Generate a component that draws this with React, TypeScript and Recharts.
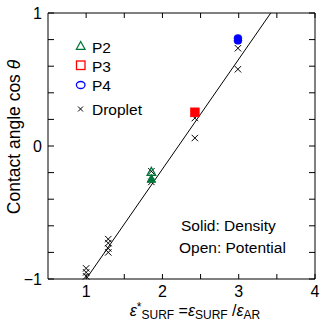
import React from 'react';
import { ScatterChart, Scatter, XAxis, YAxis, Customized } from 'recharts';

const FONT = '"Liberation Sans", Arial, Helvetica, sans-serif';

// Axis ticks
const xTicks = [1, 1.5, 2, 2.5, 3, 3.5, 4];
const yTicks = [-1, -0.8, -0.6, -0.4, -0.2, 0, 0.2, 0.4, 0.6, 0.8, 1];

// Series values
const p2PotentialX = [1.855];
const p2PotentialY = [-0.195];
const p2DensityX = [1.855];
const p2DensityY = [-0.248];
const p3DensityX = [2.425];
const p3DensityY = [0.253];
const p4DensityX = [2.99, 2.99];
const p4DensityY = [0.792, 0.812];
const dropletX = [1.0, 1.0, 1.0, 1.29, 1.29, 1.29, 1.29, 1.855, 1.855, 2.425, 2.425, 2.99, 2.99];
const dropletY = [-0.92, -0.95, -0.98, -0.7, -0.73, -0.77, -0.8, -0.19, -0.27, 0.21, 0.06, 0.735, 0.577];
const fitX = [1.0, 3.42];
const fitY = [-1, 1];

const zip = (xs: number[], ys: number[]) => xs.map((x, i) => ({ x, y: ys[i] }));

const p2Potential = zip(p2PotentialX, p2PotentialY);
const p2Density = zip(p2DensityX, p2DensityY);
const p3Density = zip(p3DensityX, p3DensityY);
const p4Density = zip(p4DensityX, p4DensityY);
const droplets = zip(dropletX, dropletY);
const fitLine = zip(fitX, fitY);

const GREEN = '#00773a';
const RED = '#ff0000';
const BLUE = '#0000ff';

const isInt = (v: number) => Math.abs(v - Math.round(v)) < 1e-9;
const fmtY = (v: number) => (Math.round(v) < 0 ? '\u2212' + Math.abs(Math.round(v)) : String(Math.round(v)));

const BottomTick = (p: any) => {
  const { x, y, payload } = p;
  const v = payload.value;
  return (
    <g>
      <line x1={x} y1={y} x2={x} y2={y - 5} stroke="#000" strokeWidth={1} />
      {isInt(v) && (
        <text x={x} y={y + 18} textAnchor="middle" fontSize={16} fontFamily={FONT} fill="#000">
          {Math.round(v)}
        </text>
      )}
    </g>
  );
};

const TopTick = (p: any) => {
  const { x, y } = p;
  return <line x1={x} y1={y} x2={x} y2={y + 5} stroke="#000" strokeWidth={1} />;
};

const LeftTick = (p: any) => {
  const { x, y, payload } = p;
  const v = payload.value;
  return (
    <g>
      <line x1={x} y1={y} x2={x + 6} y2={y} stroke="#000" strokeWidth={1} />
      {isInt(v) && (
        <text x={x - 6} y={y + 5.5} textAnchor="end" fontSize={16} fontFamily={FONT} fill="#000">
          {fmtY(v)}
        </text>
      )}
    </g>
  );
};

const RightTick = (p: any) => {
  const { x, y } = p;
  return <line x1={x} y1={y} x2={x - 6} y2={y} stroke="#000" strokeWidth={1} />;
};

const Cross = (p: any) => {
  const { cx, cy } = p;
  const s = 3.2;
  return (
    <path
      d={`M${cx - s},${cy - s}L${cx + s},${cy + s}M${cx - s},${cy + s}L${cx + s},${cy - s}`}
      stroke="#000"
      strokeWidth={1}
      fill="none"
    />
  );
};

const triPts = (cx: number, cy: number) =>
  `${cx},${cy - 4.5} ${cx - 4.3},${cy + 3.3} ${cx + 4.3},${cy + 3.3}`;

const OpenTri = (p: any) => <polygon points={triPts(p.cx, p.cy)} fill="none" stroke={GREEN} strokeWidth={1.3} />;
const SolidTri = (p: any) => <polygon points={triPts(p.cx, p.cy)} fill={GREEN} stroke={GREEN} strokeWidth={1} />;
const SolidSquare = (p: any) => (
  <rect x={p.cx - 4.5} y={p.cy - 4.5} width={9} height={9} fill={RED} stroke={RED} strokeWidth={0.5} />
);
const SolidCircle = (p: any) => <ellipse cx={p.cx} cy={p.cy} rx={4} ry={3.6} fill={BLUE} stroke={BLUE} strokeWidth={0.5} />;
const NoShape = () => <g />;

const Overlay = () => (
  <g fontFamily={FONT} fill="#000">
    {/* legend */}
    <polygon points={triPts(80.7, 46)} fill="none" stroke={GREEN} strokeWidth={1.3} />
    <text x={92} y={53} fontSize={15.5}>P2</text>
    <rect x={76.5} y={61} width={8.5} height={8.5} fill="none" stroke={RED} strokeWidth={1.3} />
    <text x={92} y={72} fontSize={15.5}>P3</text>
    <ellipse cx={80.7} cy={85} rx={4.3} ry={3.5} fill="none" stroke={BLUE} strokeWidth={1.3} />
    <text x={92} y={91} fontSize={15.5}>P4</text>
    <path d="M78,106.5L83,111.5M78,111.5L83,106.5" stroke="#000" strokeWidth={1} />
    <text x={92} y={115} fontSize={15.5}>Droplet</text>
    {/* annotations */}
    <text x={181} y={231} fontSize={15.5}>Solid: Density</text>
    <text x={179} y={253} fontSize={15.5}>Open: Potential</text>
    {/* y label */}
    <text transform="translate(20,137) rotate(-90)" x={0} y={0} textAnchor="middle" fontSize={17.5}>
      Contact angle cos <tspan fontStyle="italic">θ</tspan>
    </text>
    {/* x label */}
    <text x={195} y={316} textAnchor="middle" fontSize={16}>
      <tspan fontStyle="italic">ε</tspan>
      <tspan fontSize={12} dy={-5}>*</tspan>
      <tspan fontSize={12} dy={8}>SURF</tspan>
      <tspan dy={-3}> =</tspan>
      <tspan fontStyle="italic">ε</tspan>
      <tspan fontSize={12} dy={3}>SURF</tspan>
      <tspan dy={-3}> /</tspan>
      <tspan fontStyle="italic">ε</tspan>
      <tspan fontSize={12} dy={3}>AR</tspan>
    </text>
  </g>
);

export default function App() {
  return (
    <div style={{ position: 'absolute', left: 0, top: 0, background: '#fff' }}>
      <ScatterChart width={323} height={329} margin={{ top: 12, right: 7, bottom: 0, left: 0 }}>
        <XAxis
          xAxisId="bottom"
          dataKey="x"
          type="number"
          domain={[0.5, 4]}
          ticks={xTicks}
          interval={0}
          tickSize={0}
          tickMargin={0}
          height={50}
          axisLine={{ stroke: '#000' }}
          tick={(p: any) => <BottomTick {...p} />}
        />
        <XAxis
          xAxisId="top"
          orientation="top"
          dataKey="x"
          type="number"
          domain={[0.5, 4]}
          ticks={xTicks}
          interval={0}
          tickSize={0}
          tickMargin={0}
          height={1}
          axisLine={{ stroke: '#000' }}
          tick={(p: any) => <TopTick {...p} />}
        />
        <YAxis
          yAxisId="left"
          dataKey="y"
          type="number"
          domain={[-1, 1]}
          ticks={yTicks}
          interval={0}
          tickSize={0}
          tickMargin={0}
          width={48}
          axisLine={{ stroke: '#000' }}
          tick={(p: any) => <LeftTick {...p} />}
        />
        <YAxis
          yAxisId="right"
          orientation="right"
          dataKey="y"
          type="number"
          domain={[-1, 1]}
          ticks={yTicks}
          interval={0}
          tickSize={0}
          tickMargin={0}
          width={1}
          axisLine={{ stroke: '#000' }}
          tick={(p: any) => <RightTick {...p} />}
        />
        <Scatter
          xAxisId="top"
          yAxisId="right"
          data={fitLine}
          line={{ stroke: '#000', strokeWidth: 1 }}
          shape={NoShape}
          isAnimationActive={false}
        />
        <Scatter xAxisId="bottom" yAxisId="left" data={droplets} shape={Cross} isAnimationActive={false} />
        <Scatter xAxisId="bottom" yAxisId="left" data={p2Density} shape={SolidTri} isAnimationActive={false} />
        <Scatter xAxisId="bottom" yAxisId="left" data={p2Potential} shape={OpenTri} isAnimationActive={false} />
        <Scatter xAxisId="bottom" yAxisId="left" data={p3Density} shape={SolidSquare} isAnimationActive={false} />
        <Scatter xAxisId="bottom" yAxisId="left" data={p4Density} shape={SolidCircle} isAnimationActive={false} />
        <Customized component={Overlay} />
      </ScatterChart>
    </div>
  );
}
